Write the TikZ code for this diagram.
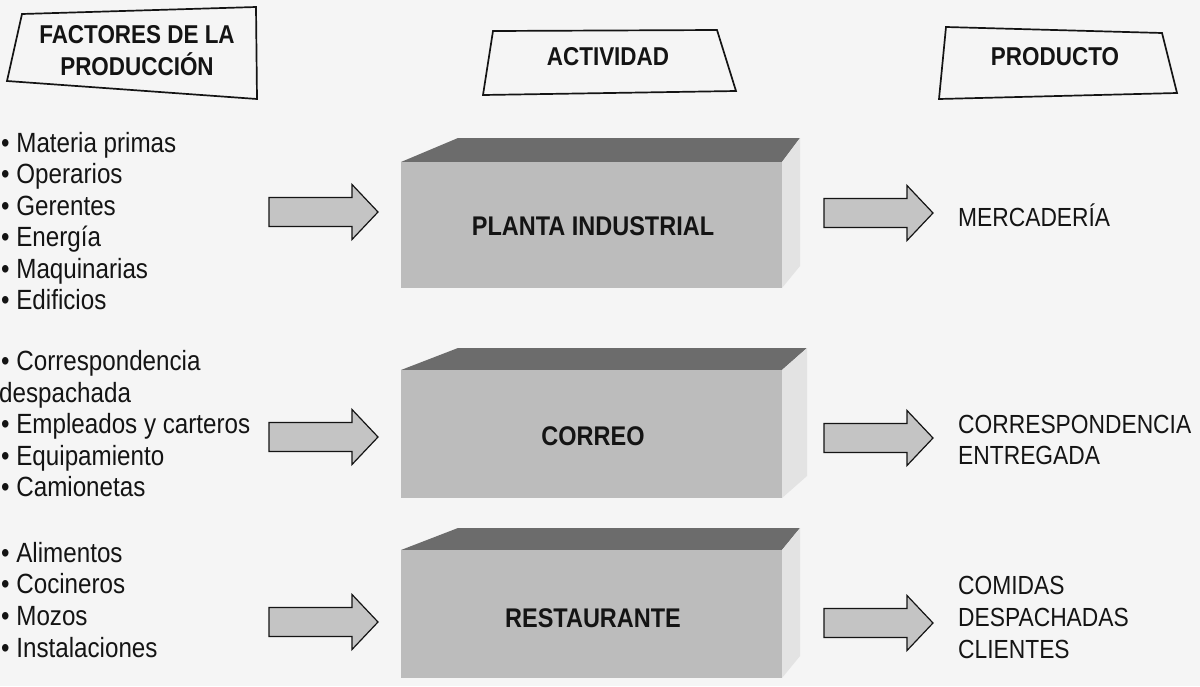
\documentclass[tikz,border=0pt]{standalone}
\usepackage{fontspec}
\setmainfont{Liberation Sans}[FakeStretch=0.87]
\definecolor{bg}{HTML}{F5F5F5}
\definecolor{ink}{HTML}{141414}
\definecolor{topface}{HTML}{6C6C6C}
\definecolor{frontface}{HTML}{BCBCBC}
\definecolor{sideface}{HTML}{E3E3E3}
\definecolor{arrowfill}{HTML}{C4C4C4}
\begin{document}
\begin{tikzpicture}[x=1pt,y=-1pt,
  hdrbox/.style={draw=ink, line width=1.7pt, line join=miter},
  hdr/.style={font=\bfseries\fontsize{25.8}{32}\selectfont, text=ink, anchor=base, inner sep=0pt},
  item/.style={font=\fontsize{27.8}{31}\selectfont, text=ink, anchor=base west, inner sep=0pt},
  outitem/.style={font=\fontsize{26.2}{31}\selectfont, text=ink, anchor=base west, inner sep=0pt},
  act/.style={font=\bfseries\fontsize{27}{32}\selectfont, text=ink, anchor=base, inner sep=0pt},
  blockarrow/.pic={\draw[ink, line width=1.2pt, fill=arrowfill, line join=miter]
     (0,-14.5) -- (83,-14.5) -- (83,-27.5) -- (109,0) -- (83,27.5) -- (83,14.5) -- (0,14.5) -- cycle;}
]
\useasboundingbox[fill=bg] (0,0) rectangle (1200,686);

% header boxes
\draw[hdrbox] (22,14) -- (256,7) -- (257,99) -- (7,81) -- cycle;
\node[hdr] (hf1) at (137,43) {FACTORES DE LA};
\node[hdr] (hf2) at (137,75) {PRODUCCIÓN};
\draw[hdrbox] (493,31) -- (717,30) -- (736,91) -- (483,95) -- cycle;
\node[hdr] (ha) at (608,65) {ACTIVIDAD};
\draw[hdrbox] (946,27) -- (1162,33) -- (1177,93) -- (939,99) -- cycle;
\node[hdr] (hp) at (1055,65) {PRODUCTO};

% 3D blocks
\foreach \t/\b/\f/\r in {162/138/288/800, 370/348/498/807, 550/528/678/800}{
  \fill[topface] (401,\t) -- (458,\b) -- (\r,\b) -- (782,\t) -- cycle;
  \fill[sideface] (782,\t) -- (\r,\b) -- (\r,\f-22) -- (782,\f) -- cycle;
  \fill[frontface] (401,\t) rectangle (782,\f);
}
\node[act] (a1) at (593,235) {PLANTA INDUSTRIAL};
\node[act] (a2) at (593,445) {CORREO};
\node[act] (a3) at (593,627) {RESTAURANTE};

% arrows
\foreach \y in {212,437,622}{
  \pic at (269,\y) {blockarrow};
  \pic at (824,\y+1) {blockarrow};
}

% inputs
\foreach \txt [count=\i] in {Materia primas, Operarios, Gerentes, Energía, Maquinarias, Edificios}{
  \node[item] (in1-\i) at (1,{152+31.5*(\i-1)}) {• \txt};
}
\node[item] (in2-1) at (1,370) {• Correspondencia};
\node[item] (in2-2) at (-1,402) {despachada};
\foreach \txt [count=\i] in {Empleados y carteros, Equipamiento, Camionetas}{
  \node[item] (in2-\i b) at (1,{433.5+31.7*(\i-1)}) {• \txt};
}
\foreach \txt [count=\i] in {Alimentos, Cocineros, Mozos, Instalaciones}{
  \node[item] (in3-\i) at (1,{562+31.8*(\i-1)}) {• \txt};
}

% outputs
\node[outitem] (o1) at (958,226) {MERCADERÍA};
\node[outitem] (o2a) at (958,433) {CORRESPONDENCIA};
\node[outitem] (o2b) at (958,464) {ENTREGADA};
\node[outitem] (o3a) at (958,594) {COMIDAS};
\node[outitem] (o3b) at (958,626) {DESPACHADAS};
\node[outitem] (o3c) at (958,658) {CLIENTES};
\end{tikzpicture}
\end{document}
